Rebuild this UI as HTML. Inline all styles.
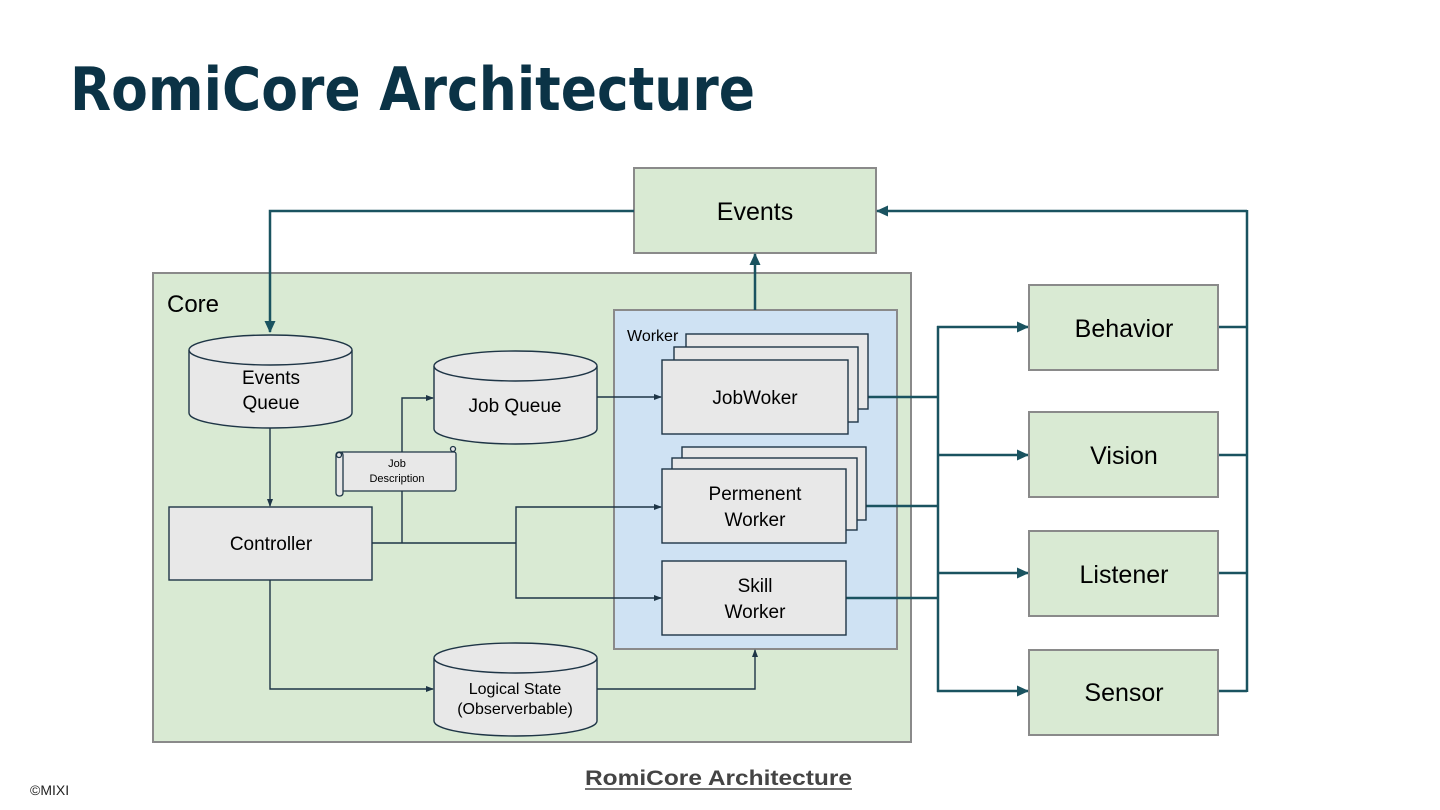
<!DOCTYPE html>
<html><head><meta charset="utf-8"><style>
html,body{margin:0;padding:0;background:#fff;}
svg{display:block;font-family:"Liberation Sans",Arial,sans-serif;}
</style></head><body>
<svg width="1440" height="810" viewBox="0 0 1440 810" xmlns="http://www.w3.org/2000/svg">
<defs>
<marker id="at" markerWidth="12" markerHeight="12" refX="11" refY="6" orient="auto" markerUnits="userSpaceOnUse"><path d="M0,0.5 L12,6 L0,11.5 Z" fill="#1a5360"/></marker>
<marker id="ad" markerWidth="8" markerHeight="8" refX="7" refY="4" orient="auto" markerUnits="userSpaceOnUse"><path d="M0,1 L8,4 L0,7 Z" fill="#1e3546"/></marker>
</defs>
<text x="70" y="110" font-family="DejaVu Sans, sans-serif" font-weight="bold" font-size="60" fill="#0b3346" textLength="685" lengthAdjust="spacingAndGlyphs">RomiCore Architecture</text>

<rect x="634" y="168" width="242" height="85" fill="#d9ead3" stroke="#8a8a8a" stroke-width="2"/>
<text x="755" y="220" font-size="25" text-anchor="middle">Events</text>

<rect x="153" y="273" width="758" height="469" fill="#d9ead3" stroke="#8a8a8a" stroke-width="2"/>
<text x="167" y="312" font-size="24">Core</text>

<rect x="614" y="310" width="283" height="339" fill="#cfe2f3" stroke="#8a8a8a" stroke-width="2"/>
<text x="627" y="341" font-size="16">Worker</text>

<g stroke="#1a5360" stroke-width="2.5" fill="none">
<polyline points="634,211 270,211 270,332" marker-end="url(#at)"/>
<line x1="755" y1="310" x2="755" y2="254" marker-end="url(#at)"/>
<line x1="1247" y1="211" x2="877" y2="211" marker-end="url(#at)"/>
<line x1="1247" y1="210" x2="1247" y2="692"/>
<line x1="1218" y1="327" x2="1247" y2="327"/>
<line x1="1218" y1="455" x2="1247" y2="455"/>
<line x1="1218" y1="573" x2="1247" y2="573"/>
<line x1="1218" y1="691" x2="1247" y2="691"/>
<line x1="848" y1="397" x2="938" y2="397"/>
<line x1="846" y1="506" x2="938" y2="506"/>
<line x1="846" y1="598" x2="938" y2="598"/>
<line x1="938" y1="326" x2="938" y2="692"/>
<line x1="937" y1="327" x2="1028" y2="327" marker-end="url(#at)"/>
<line x1="937" y1="455" x2="1028" y2="455" marker-end="url(#at)"/>
<line x1="937" y1="573" x2="1028" y2="573" marker-end="url(#at)"/>
<line x1="937" y1="691" x2="1028" y2="691" marker-end="url(#at)"/>
</g>

<g stroke="#1e3546" stroke-width="1.4" fill="none">
<line x1="270" y1="428" x2="270" y2="506" marker-end="url(#ad)"/>
<line x1="372" y1="543" x2="516" y2="543"/>
<polyline points="402,543 402,398 433,398" marker-end="url(#ad)"/>
<polyline points="516,543 516,507 661,507" marker-end="url(#ad)"/>
<polyline points="516,543 516,598 661,598" marker-end="url(#ad)"/>
<line x1="597" y1="397" x2="661" y2="397" marker-end="url(#ad)"/>
<polyline points="270,580 270,689 433,689" marker-end="url(#ad)"/>
<polyline points="597,689 755,689 755,650" marker-end="url(#ad)"/>
</g>

<g fill="#e8e8e8" stroke="#1e3546" stroke-width="1.4">
<path d="M189,350 L189,413 A81.5,15 0 0 0 352,413 L352,350"/>
<ellipse cx="270.5" cy="350" rx="81.5" ry="15"/>
<path d="M434,366 L434,429 A81.5,15 0 0 0 597,429 L597,366"/>
<ellipse cx="515.5" cy="366" rx="81.5" ry="15"/>
<path d="M434,658 L434,721 A81.5,15 0 0 0 597,721 L597,658"/>
<ellipse cx="515.5" cy="658" rx="81.5" ry="15"/>
</g>
<text x="271" y="384" font-size="19" text-anchor="middle">Events</text>
<text x="271" y="409" font-size="19" text-anchor="middle">Queue</text>
<text x="515" y="412" font-size="19" text-anchor="middle">Job Queue</text>
<text x="515" y="694" font-size="16" text-anchor="middle">Logical State</text>
<text x="515" y="714" font-size="16" text-anchor="middle">(Observerbable)</text>

<rect x="169" y="507" width="203" height="73" fill="#e8e8e8" stroke="#1e3546" stroke-width="1.4"/>
<text x="271" y="550" font-size="19" text-anchor="middle">Controller</text>

<g fill="#e8e8e8" stroke="#1e3546" stroke-width="1.3">
<rect x="340" y="452" width="116" height="39" rx="2"/>
<rect x="336" y="452" width="7" height="44" rx="3"/>
<circle cx="339" cy="455" r="2.5"/>
<circle cx="453" cy="449" r="2.5"/>
</g>
<text x="397" y="467" font-size="11" text-anchor="middle">Job</text>
<text x="397" y="482" font-size="11" text-anchor="middle">Description</text>

<g fill="#e8e8e8" stroke="#1e3546" stroke-width="1.4">
<rect x="686" y="334" width="182" height="75"/>
<rect x="674" y="347" width="184" height="75"/>
<rect x="662" y="360" width="186" height="74"/>
<rect x="682" y="447" width="184" height="73"/>
<rect x="672" y="458" width="185" height="72"/>
<rect x="662" y="469" width="184" height="74"/>
<rect x="662" y="561" width="184" height="74"/>
</g>
<text x="755" y="404" font-size="19" text-anchor="middle">JobWoker</text>
<text x="755" y="500" font-size="19" text-anchor="middle">Permenent</text>
<text x="755" y="526" font-size="19" text-anchor="middle">Worker</text>
<text x="755" y="592" font-size="19" text-anchor="middle">Skill</text>
<text x="755" y="618" font-size="19" text-anchor="middle">Worker</text>

<g fill="#d9ead3" stroke="#8a8a8a" stroke-width="2">
<rect x="1029" y="285" width="189" height="85"/>
<rect x="1029" y="412" width="189" height="85"/>
<rect x="1029" y="531" width="189" height="85"/>
<rect x="1029" y="650" width="189" height="85"/>
</g>
<g font-size="25" text-anchor="middle">
<text x="1124" y="337">Behavior</text>
<text x="1124" y="464">Vision</text>
<text x="1124" y="583">Listener</text>
<text x="1124" y="701">Sensor</text>
</g>

<text x="30" y="795" font-size="14" fill="#222">©MIXI</text>
<text x="585" y="785" font-size="21" font-weight="bold" fill="#444" textLength="267" lengthAdjust="spacingAndGlyphs">RomiCore Architecture</text>
<line x1="585" y1="789" x2="852" y2="789" stroke="#444" stroke-width="1.5"/>
</svg>
</body></html>
